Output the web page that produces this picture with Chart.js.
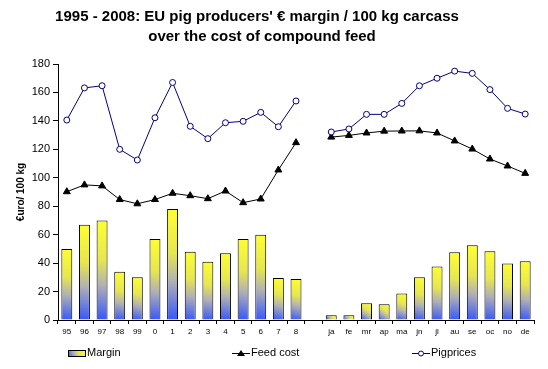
<!DOCTYPE html>
<html>
<head>
<meta charset="utf-8">
<script src="https://cdn.jsdelivr.net/npm/chart.js@4"></script>
<style>
html, body { margin: 0; padding: 0; background: #fff; }
</style>
</head>
<body>
<canvas id="graphique" width="548" height="369"></canvas>
<script>
// Catégories : années 1995-2008, une colonne vide, puis les mois de 2008
const categories = ['95', '96', '97', '98', '99', '0', '1', '2', '3', '4', '5', '6', '7', '8', '',
    'ja', 'fe', 'mr', 'ap', 'ma', 'jn', 'jl', 'au', 'se', 'oc', 'no', 'de'];

const margin = [50, 67, 70, 34, 30, 57, 78, 48, 41, 47, 57, 60, 29.5, 28.8, null,
    3.3, 3.3, 11.7, 11, 18.7, 30, 37.7, 47.6, 52.5, 48.3, 39.8, 41.3];

const feedCost = [90.2, 95, 94.3, 84.7, 81.7, 84.7, 89.1, 87.4, 85.3, 90.7, 82.5, 85.1, 105.5, 124.7, null,
    128.6, 129.8, 131.5, 132.8, 132.9, 133, 131.5, 125.9, 120.2, 113.2, 108.3, 103.1];

const pigPrices = [140.6, 163.2, 164.7, 120, 112.5, 142.2, 167, 136.2, 127.5, 138.7, 139.7, 146, 135.9, 154, null,
    132.2, 134.3, 144.6, 144.6, 152.3, 164.7, 170, 175, 173.4, 162, 148.8, 144.8];

const yTicks = [0, 20, 40, 60, 80, 100, 120, 140, 160, 180];

const titre = ["1995 - 2008: EU pig producers' € margin / 100 kg carcass", 'over the cost of compound feed'];

const police = "'Liberation Sans', Arial, sans-serif";


function degradeBarre(ctx, gauche, haut, droite, bas) {
    // dégradé jaune en haut -> gris -> bleu en bas, comme dans Excel
    const g = ctx.createLinearGradient(droite, haut, gauche, bas);
    g.addColorStop(0, '#ffff30');
    g.addColorStop(0.4, '#e6e650');
    g.addColorStop(0.65, '#b0b0b4');
    g.addColorStop(1, '#3355ff');
    return g;
}


function couleurBarre(context) {
    const chart = context.chart;
    if (!chart.chartArea || context.parsed == null || context.parsed.y == null) {
        return '#ffff30';
    }
    const x = chart.scales.x;
    const y = chart.scales.y;
    const cx = x.getPixelForValue(context.dataIndex);
    const demi = (x.width / categories.length) * 0.62 / 2;
    return degradeBarre(chart.ctx, cx - demi, y.getPixelForValue(context.parsed.y), cx + demi, y.getPixelForValue(0));
}


// Titre et légende dessinés à la main (position des lignes et espacement des entrées comme Excel)
const titreEtLegende = {
    id: 'titreEtLegende',
    afterDraw(chart) {
        const ctx = chart.ctx;
        ctx.save();
        ctx.fillStyle = '#000';
        ctx.textBaseline = 'middle';
        ctx.textAlign = 'center';
        ctx.font = 'bold 15px ' + police;
        ctx.fillText(titre[0], 257, 17);
        ctx.fillText(titre[1], 262, 37);

        const yc = 353;
        ctx.textAlign = 'left';
        ctx.font = '11px ' + police;

        // Margin
        ctx.fillStyle = degradeBarre(ctx, 68, yc - 3, 86, yc + 4);
        ctx.fillRect(68, yc - 3, 18, 7);
        ctx.strokeStyle = '#000';
        ctx.lineWidth = 1;
        ctx.strokeRect(68.5, yc - 2.5, 17, 6);
        ctx.fillStyle = '#000';
        ctx.fillText('Margin', 87, yc);

        // Feed cost
        ctx.beginPath();
        ctx.moveTo(232, yc + 0.5);
        ctx.lineTo(250, yc + 0.5);
        ctx.stroke();
        ctx.beginPath();
        ctx.moveTo(241, yc - 3);
        ctx.lineTo(245, yc + 3);
        ctx.lineTo(237, yc + 3);
        ctx.closePath();
        ctx.fill();
        ctx.fillText('Feed cost', 251, yc);

        // Pigprices
        ctx.strokeStyle = '#000080';
        ctx.beginPath();
        ctx.moveTo(412, yc + 0.5);
        ctx.lineTo(430, yc + 0.5);
        ctx.stroke();
        ctx.beginPath();
        ctx.arc(421, yc + 0.5, 2.5, 0, Math.PI * 2);
        ctx.fillStyle = '#fff';
        ctx.fill();
        ctx.stroke();
        ctx.fillStyle = '#000';
        ctx.fillText('Pigprices', 431, yc);
        ctx.restore();
    }
};


new Chart(document.getElementById('graphique'), {
    type: 'bar',
    data: {
        labels: categories,
        datasets: [
            {
                type: 'line',
                label: 'Pigprices',
                data: pigPrices,
                borderColor: '#000080',
                borderWidth: 1,
                pointStyle: 'circle',
                pointRadius: 3,
                pointBorderWidth: 1,
                pointBackgroundColor: '#fff',
                pointBorderColor: '#000080',
                spanGaps: false,
                tension: 0,
                order: 0,
            },
            {
                type: 'line',
                label: 'Feed cost',
                data: feedCost,
                borderColor: '#000',
                borderWidth: 1,
                pointStyle: 'triangle',
                pointRadius: 4,
                pointBackgroundColor: '#000',
                pointBorderColor: '#000',
                spanGaps: false,
                tension: 0,
                order: 1,
            },
            {
                label: 'Margin',
                data: margin,
                backgroundColor: couleurBarre,
                borderColor: '#000',
                borderWidth: 1,
                borderSkipped: 'bottom',
                barPercentage: 0.62,
                categoryPercentage: 1,
                order: 2,
            },
        ],
    },
    options: {
        responsive: false,
        animation: false,
        layout: {
            padding: { left: 0, right: 14, top: 64, bottom: 31 },
        },
        plugins: {
            legend: { display: false },
            tooltip: { enabled: false },
            title: { display: false },
        },
        scales: {
            x: {
                grid: {
                    drawOnChartArea: false,
                    offset: true,
                    color: '#000',
                    tickLength: 4,
                },
                border: { color: '#000', width: 1 },
                ticks: {
                    color: '#000',
                    font: { family: police, size: 8 },
                    maxRotation: 0,
                    autoSkip: false,
                    padding: 3,
                },
                afterFit(scale) {
                    scale.height = 18;
                },
            },
            y: {
                min: 0,
                max: 180,
                afterBuildTicks(scale) {
                    scale.ticks = yTicks.map(v => ({ value: v }));
                },
                grid: {
                    drawOnChartArea: false,
                    color: '#000',
                    tickLength: 5,
                },
                border: { color: '#000', width: 1 },
                ticks: {
                    color: '#000',
                    font: { family: police, size: 11 },
                    padding: 3,
                },
                title: {
                    display: true,
                    text: '€uro/ 100 kg',
                    color: '#000',
                    font: { family: police, size: 10, weight: 'bold' },
                    padding: { top: 15, bottom: 0 },
                },
                afterFit(scale) {
                    scale.width = 58;
                },
            },
        },
    },
    plugins: [titreEtLegende],
});
</script>
</body>
</html>
